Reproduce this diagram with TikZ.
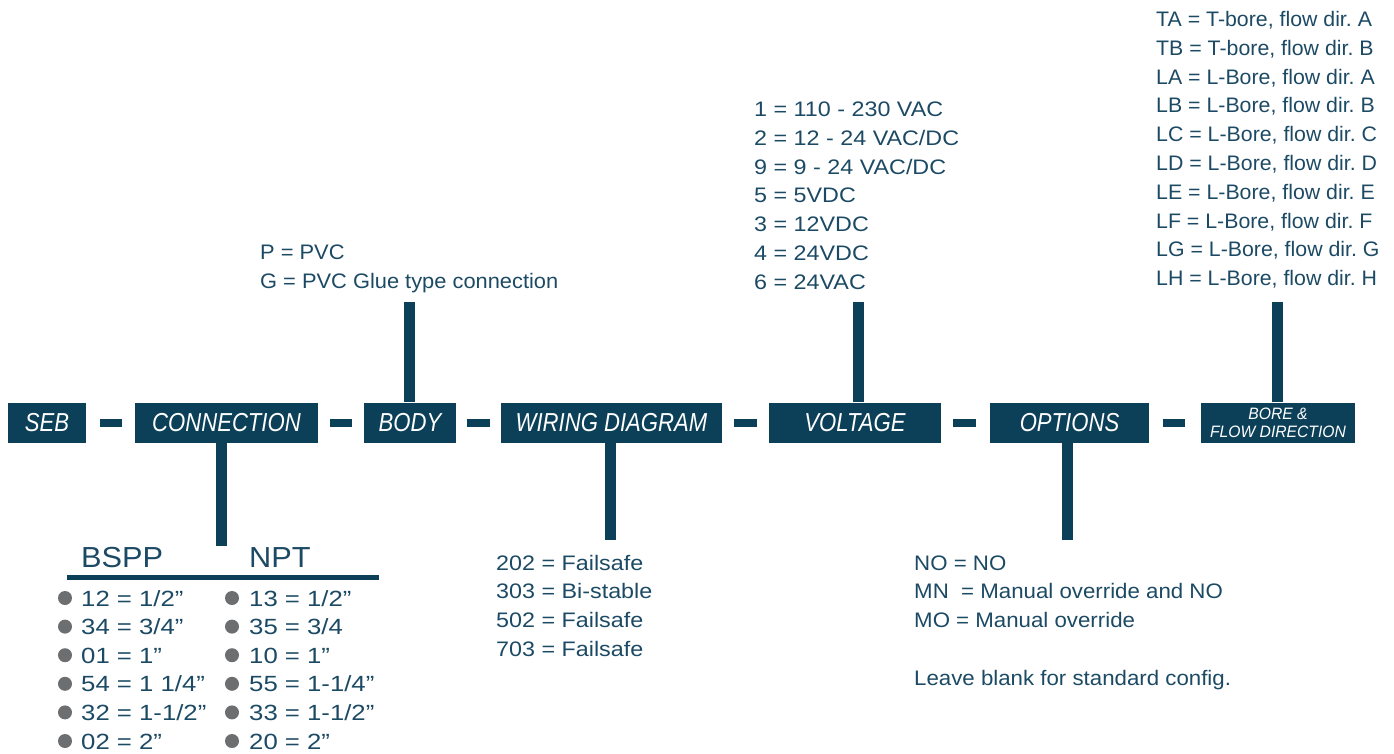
\documentclass[tikz,border=0pt]{standalone}
\usepackage{fontspec}
\setmainfont{Liberation Sans}
\newfontfamily\lstfnt{Liberation Sans}[FakeStretch=1.06]
\newfontfamily\borefnt{Liberation Sans}[FakeStretch=1.015]
\newfontfamily\bodyfnt{Liberation Sans}[FakeStretch=1.04]
\newfontfamily\voltfnt{Liberation Sans}[FakeStretch=1.11]
\newfontfamily\tblfnt{Liberation Sans}[FakeStretch=1.17]
\newfontfamily\boxfnt{Liberation Sans}[FakeStretch=0.85]
\newfontfamily\boxfntw{Liberation Sans}[FakeStretch=0.95]
\usetikzlibrary{calc}
\definecolor{boxblue}{HTML}{0C4058}
\definecolor{txtblue}{HTML}{1C4A64}
\definecolor{bulletgray}{HTML}{6D6E70}
\frenchspacing
\begin{document}
\begin{tikzpicture}[x=1pt,y=-1pt,
  box/.style={fill=boxblue, inner sep=0, minimum height=40, text=white,
    font=\boxfnt\itshape\fontsize{26}{26}\selectfont},
  smallbox/.style={box, align=center, font=\boxfntw\itshape\fontsize{16.5}{18}\selectfont},
  bar/.style={draw=boxblue, line width=8},
  stem/.style={draw=boxblue, line width=11},
  lst/.style={anchor=base west, inner sep=0, text=txtblue,
    font=\lstfnt\fontsize{21}{21}\selectfont},
  vlst/.style={lst, font=\voltfnt\fontsize{21}{21}\selectfont},
  blst/.style={lst, font=\borefnt\fontsize{21}{21}\selectfont},
  plst/.style={lst, font=\bodyfnt\fontsize{21}{21}\selectfont},
  tbl/.style={anchor=base west, inner sep=0, text=txtblue,
    font=\tblfnt\fontsize{22}{22}\selectfont},
  head/.style={anchor=base west, inner sep=0, text=txtblue,
    font=\lstfnt\fontsize{29}{29}\selectfont},
  bullet/.style={circle, fill=bulletgray, inner sep=0, minimum size=14}]
\useasboundingbox (0,0) rectangle (1394,754);

% boxes
\node[box, minimum width=78]  (seb)  at (47,422.5)    {SEB};
\node[box, minimum width=183] (conn) at (226.5,422.5) {CONNECTION};
\node[box, minimum width=92]  (body) at (410,422.5)   {BODY};
\node[box, minimum width=221] (wire) at (611.5,422.5) {WIRING DIAGRAM};
\node[box, minimum width=172] (volt) at (855,422.5)   {VOLTAGE};
\node[box, minimum width=159] (opt)  at (1069.5,422.5){OPTIONS};
\node[smallbox, minimum width=154] (bore) at (1278,422.5) {BORE \&\\FLOW DIRECTION};

% dashes between boxes
\draw[bar, shorten <=14, shorten >=13] (seb) -- (conn);
\draw[bar, shorten <=12, shorten >=12] (conn) -- (body);
\draw[bar, shorten <=11, shorten >=11] (body) -- (wire);
\draw[bar, shorten <=12, shorten >=12] (wire) -- (volt);
\draw[bar, shorten <=12, shorten >=14] (volt) -- (opt);
\draw[bar, shorten <=14, shorten >=16] (opt) -- (bore);

% stems
\coordinate (connEnd) at (221,546);
\coordinate (bodyEnd) at (409.5,302);
\coordinate (wireEnd) at (610.5,540);
\coordinate (voltEnd) at (858.5,302);
\coordinate (optEnd)  at (1067.5,540);
\coordinate (boreEnd) at (1277.5,302);
\draw[stem] (connEnd |- conn.south) -- (connEnd);
\draw[stem] (bodyEnd |- body.north) -- (bodyEnd);
\draw[stem] (wireEnd |- wire.south) -- (wireEnd);
\draw[stem] (voltEnd |- volt.north) -- (voltEnd);
\draw[stem] (optEnd |- opt.south) -- (optEnd);
\draw[stem] (boreEnd |- bore.north) -- (boreEnd);

% body list
\node[plst] (p1) at (260,259) {P = PVC};
\node[plst] (p2) at (260,288) {G = PVC Glue type connection};

% voltage list
\foreach \t [count=\i from 0] in {{1 = 110 - 230 VAC},{2 = 12 - 24 VAC/DC},{9 = 9 - 24 VAC/DC},{5 = 5VDC},{3 = 12VDC},{4 = 24VDC},{6 = 24VAC}}
  \node[vlst] (v\i) at (754,{116.5+28.8*\i}) {\t};

% bore list
\foreach \t [count=\i from 0] in {{TA = T-bore, flow dir. A},{TB = T-bore, flow dir. B},{LA = L-Bore, flow dir. A},{LB = L-Bore, flow dir. B},{LC = L-Bore, flow dir. C},{LD = L-Bore, flow dir. D},{LE = L-Bore, flow dir. E},{LF = L-Bore, flow dir. F},{LG = L-Bore, flow dir. G},{LH = L-Bore, flow dir. H}}
  \node[blst] (r\i) at (1156,{26.5+28.8*\i}) {\t};

% wiring list
\foreach \t [count=\i from 0] in {{202 = Failsafe},{303 = Bi-stable},{502 = Failsafe},{703 = Failsafe}}
  \node[vlst] (w\i) at (496,{570+28.7*\i}) {\t};

% options list
\node[lst] (o1) at (914,570)   {NO = NO};
\node[lst] (o2) at (914,598.7) {MN\ \ = Manual override and NO};
\node[lst] (o3) at (914,627.4) {MO = Manual override};
\node[lst] (o4) at (914,685.5) {Leave blank for standard config.};

% connection table
\node[head] (bspp) at (81,567) {BSPP};
\node[head] (npt)  at (249,567) {NPT};
\coordinate (ruleL) at (67,577.5);
\coordinate (ruleR) at (379,577.5);
\draw[draw=boxblue, line width=5] (ruleL) -- (ruleR);
\foreach \a/\b [count=\i from 0] in {{12 = 1/2”}/{13 = 1/2”},{34 = 3/4”}/{35 = 3/4},{01 = 1”}/{10 = 1”},{54 = 1 1/4”}/{55 = 1-1/4”},{32 = 1-1/2”}/{33 = 1-1/2”},{02 = 2”}/{20 = 2”}}{
  \node[bullet] (ba\i) at (65,{598+28.6*\i}) {};
  \node[tbl] (ta\i) at (81,{606+28.6*\i}) {\a};
  \node[bullet] (bb\i) at (232,{598+28.6*\i}) {};
  \node[tbl] (tb\i) at (249,{606+28.6*\i}) {\b};
}
\end{tikzpicture}
\end{document}
